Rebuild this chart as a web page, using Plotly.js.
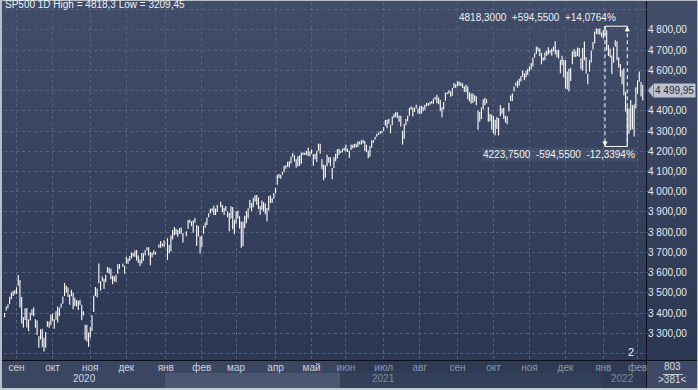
<!DOCTYPE html>
<html><head><meta charset="utf-8">
<script src="https://cdn.plot.ly/plotly-3.0.1.min.js"></script>
<style>
html,body{margin:0;padding:0;background:#2b3753;}
#wrap{position:relative;width:698px;height:390px;overflow:hidden;background:linear-gradient(180deg,#424e69 0px,#2b3753 360px);}
.blk{position:absolute;}
#chart{position:absolute;left:0;top:0;width:698px;height:390px;}
</style></head><body>
<div id="wrap">
  <div class="blk" style="left:0;top:361px;width:340px;height:29px;background:#3b4762"></div>
  <div class="blk" style="left:165px;top:373px;width:175px;height:15px;background:#4b5771"></div>
  <div class="blk" style="left:340px;top:361px;width:307px;height:29px;background:#2f3b55"></div>
  <div class="blk" style="left:340px;top:373px;width:262px;height:15px;background:#33405a"></div>
  <div class="blk" style="left:647px;top:361px;width:51px;height:29px;background:#3d4965"></div>
  <div class="blk" style="left:663px;top:374px;width:20px;height:1px;background:#c8d0dc"></div>
  <div class="blk" style="left:646px;top:0;width:1px;height:390px;background:#0c0f18"></div>
  <div class="blk" style="left:0;top:360px;width:698px;height:1px;background:#0c0f18"></div>
  <div class="blk" style="left:0;top:0;width:698px;height:1px;background:#b7beca"></div>
  <div class="blk" style="left:0;top:0;width:2px;height:390px;background:#b7beca"></div>
  <div class="blk" style="left:697px;top:0;width:1px;height:390px;background:#b7beca"></div>
  <div class="blk" style="left:0;top:388px;width:698px;height:2px;background:#c3c9d3"></div>
  <div id="chart"></div>
</div>
<script>
// bar slots (exchange holidays in winter 2020/21 kept as empty slots)
const dates = [
'2020-08-21','2020-08-24','2020-08-25','2020-08-26','2020-08-27','2020-08-28','2020-08-31',
'2020-09-01','2020-09-02','2020-09-03','2020-09-04','2020-09-08','2020-09-09','2020-09-10','2020-09-11','2020-09-14','2020-09-15','2020-09-16','2020-09-17','2020-09-18','2020-09-21','2020-09-22','2020-09-23','2020-09-24','2020-09-25','2020-09-28','2020-09-29','2020-09-30',
'2020-10-01','2020-10-02','2020-10-05','2020-10-06','2020-10-07','2020-10-08','2020-10-09','2020-10-12','2020-10-13','2020-10-14','2020-10-15','2020-10-16','2020-10-19','2020-10-20','2020-10-21','2020-10-22','2020-10-23','2020-10-26','2020-10-27','2020-10-28','2020-10-29','2020-10-30',
'2020-11-02','2020-11-03','2020-11-04','2020-11-05','2020-11-06','2020-11-09','2020-11-10','2020-11-11','2020-11-12','2020-11-13','2020-11-16','2020-11-17','2020-11-18','2020-11-19','2020-11-20','2020-11-23','2020-11-24','2020-11-25','2020-11-26','2020-11-27','2020-11-30',
'2020-12-01','2020-12-02','2020-12-03','2020-12-04','2020-12-07','2020-12-08','2020-12-09','2020-12-10','2020-12-11','2020-12-14','2020-12-15','2020-12-16','2020-12-17','2020-12-18','2020-12-21','2020-12-22','2020-12-23','2020-12-24','2020-12-25','2020-12-28','2020-12-29','2020-12-30','2020-12-31',
'2021-01-01','2021-01-04','2021-01-05','2021-01-06','2021-01-07','2021-01-08','2021-01-11','2021-01-12','2021-01-13','2021-01-14','2021-01-15','2021-01-18','2021-01-19','2021-01-20','2021-01-21','2021-01-22','2021-01-25','2021-01-26','2021-01-27','2021-01-28','2021-01-29',
'2021-02-01','2021-02-02','2021-02-03','2021-02-04','2021-02-05','2021-02-08','2021-02-09','2021-02-10','2021-02-11','2021-02-12','2021-02-15','2021-02-16','2021-02-17','2021-02-18','2021-02-19','2021-02-22','2021-02-23','2021-02-24','2021-02-25','2021-02-26',
'2021-03-01','2021-03-02','2021-03-03','2021-03-04','2021-03-05','2021-03-08','2021-03-09','2021-03-10','2021-03-11','2021-03-12','2021-03-15','2021-03-16','2021-03-17','2021-03-18','2021-03-19','2021-03-22','2021-03-23','2021-03-24','2021-03-25','2021-03-26','2021-03-29','2021-03-30','2021-03-31',
'2021-04-01','2021-04-05','2021-04-06','2021-04-07','2021-04-08','2021-04-09','2021-04-12','2021-04-13','2021-04-14','2021-04-15','2021-04-16','2021-04-19','2021-04-20','2021-04-21','2021-04-22','2021-04-23','2021-04-26','2021-04-27','2021-04-28','2021-04-29','2021-04-30',
'2021-05-03','2021-05-04','2021-05-05','2021-05-06','2021-05-07','2021-05-10','2021-05-11','2021-05-12','2021-05-13','2021-05-14','2021-05-17','2021-05-18','2021-05-19','2021-05-20','2021-05-21','2021-05-24','2021-05-25','2021-05-26','2021-05-27','2021-05-28',
'2021-06-01','2021-06-02','2021-06-03','2021-06-04','2021-06-07','2021-06-08','2021-06-09','2021-06-10','2021-06-11','2021-06-14','2021-06-15','2021-06-16','2021-06-17','2021-06-18','2021-06-21','2021-06-22','2021-06-23','2021-06-24','2021-06-25','2021-06-28','2021-06-29','2021-06-30',
'2021-07-01','2021-07-02','2021-07-06','2021-07-07','2021-07-08','2021-07-09','2021-07-12','2021-07-13','2021-07-14','2021-07-15','2021-07-16','2021-07-19','2021-07-20','2021-07-21','2021-07-22','2021-07-23','2021-07-26','2021-07-27','2021-07-28','2021-07-29','2021-07-30',
'2021-08-02','2021-08-03','2021-08-04','2021-08-05','2021-08-06','2021-08-09','2021-08-10','2021-08-11','2021-08-12','2021-08-13','2021-08-16','2021-08-17','2021-08-18','2021-08-19','2021-08-20','2021-08-23','2021-08-24','2021-08-25','2021-08-26','2021-08-27','2021-08-30','2021-08-31',
'2021-09-01','2021-09-02','2021-09-03','2021-09-07','2021-09-08','2021-09-09','2021-09-10','2021-09-13','2021-09-14','2021-09-15','2021-09-16','2021-09-17','2021-09-20','2021-09-21','2021-09-22','2021-09-23','2021-09-24','2021-09-27','2021-09-28','2021-09-29','2021-09-30',
'2021-10-01','2021-10-04','2021-10-05','2021-10-06','2021-10-07','2021-10-08','2021-10-11','2021-10-12','2021-10-13','2021-10-14','2021-10-15','2021-10-18','2021-10-19','2021-10-20','2021-10-21','2021-10-22','2021-10-25','2021-10-26','2021-10-27','2021-10-28','2021-10-29',
'2021-11-01','2021-11-02','2021-11-03','2021-11-04','2021-11-05','2021-11-08','2021-11-09','2021-11-10','2021-11-11','2021-11-12','2021-11-15','2021-11-16','2021-11-17','2021-11-18','2021-11-19','2021-11-22','2021-11-23','2021-11-24','2021-11-26','2021-11-29','2021-11-30',
'2021-12-01','2021-12-02','2021-12-03','2021-12-06','2021-12-07','2021-12-08','2021-12-09','2021-12-10','2021-12-13','2021-12-14','2021-12-15','2021-12-16','2021-12-17','2021-12-20','2021-12-21','2021-12-22','2021-12-23','2021-12-27','2021-12-28','2021-12-29','2021-12-30','2021-12-31',
'2022-01-03','2022-01-04','2022-01-05','2022-01-06','2022-01-07','2022-01-10','2022-01-11','2022-01-12','2022-01-13','2022-01-14','2022-01-18','2022-01-19','2022-01-20','2022-01-21','2022-01-24','2022-01-25','2022-01-26','2022-01-27','2022-01-28','2022-01-31',
'2022-02-01','2022-02-02','2022-02-03','2022-02-04'
];
const highs = [
3400,3432,3444,3481,3501,3509,3514,
3528,3588,3564,3479,3379,3424,3425,3368,3402,3419,3428,3369,3363,3286,3320,3323,3278,3306,3360,3358,3393,
3398,3369,3409,3432,3426,3447,3482,3549,3535,3527,3490,3515,3502,3476,3465,3461,3466,3441,3409,3342,3342,3304,
3330,3389,3486,3529,3521,3645,3557,3581,3569,3589,3628,3624,3619,3585,3582,3589,3642,3643,null,3645,3634,
3678,3670,3682,3699,3697,3709,3712,3685,3665,3697,3695,3711,3725,3726,3702,3698,3711,3703,null,3740,3756,3744,3760,
null,3770,3737,3784,3811,3826,3817,3811,3820,3823,3796,null,3805,3860,3862,3853,3859,3870,3836,3830,3778,
3784,3831,3848,3872,3894,3916,3918,3931,3917,3935,null,3950,3934,3921,3930,3902,3895,3928,3925,3861,
3903,3906,3879,3853,3851,3881,3903,3918,3960,3944,3970,3982,3984,3971,3930,3956,3949,3942,3919,3979,3981,3968,3994,
4020,4084,4087,4084,4098,4129,4131,4148,4151,4173,4191,4180,4160,4175,4179,4194,4194,4193,4201,4218,4199,
4209,4187,4187,4202,4238,4237,4162,4134,4131,4183,4172,4170,4117,4172,4188,4210,4213,4203,4213,4218,
4234,4212,4201,4233,4232,4237,4237,4249,4248,4255,4257,4251,4232,4204,4226,4255,4256,4272,4287,4293,4300,4302,
4320,4355,4356,4361,4331,4372,4386,4393,4393,4377,4376,4301,4336,4359,4375,4415,4422,4416,4415,4430,4412,
4423,4425,4420,4430,4440,4439,4445,4449,4461,4468,4480,4466,4454,4418,4444,4489,4492,4502,4496,4513,4537,4531,
4546,4545,4540,4535,4522,4529,4520,4492,4485,4486,4477,4472,4403,4394,4416,4457,4465,4457,4419,4384,4382,
4375,4356,4369,4365,4429,4412,4415,4375,4373,4440,4476,4487,4520,4540,4549,4559,4572,4599,4585,4598,4608,
4620,4636,4664,4684,4718,4714,4708,4685,4664,4688,4697,4714,4701,4708,4717,4744,4701,4702,4651,4672,4652,
4651,4595,4608,4613,4694,4706,4695,4713,4711,4660,4710,4743,4665,4583,4651,4698,4740,4792,4808,4804,4808,4787,
4800,4818.3,4798,4725,4707,4673,4714,4749,4744,4665,4632,4601,4611,4494,4417,4411,4453,4428,4432,4517,
4550,4595,4542,4529
];
const lows = [
3379,3413,3424,3444,3468,3485,3493,
3494,3535,3427,3349,3329,3366,3329,3310,3363,3389,3384,3328,3292,3229,3270,3232,3209.45,3228,3333,3327,3340,
3361,3323,3367,3354,3385,3426,3446,3484,3502,3480,3441,3483,3419,3435,3433,3415,3440,3364,3388,3268,3259,3234,
3279,3311,3405,3485,3477,3547,3511,3557,3519,3552,3600,3594,3567,3543,3556,3553,3595,3619,null,3629,3594,
3645,3644,3657,3670,3679,3678,3660,3648,3633,3645,3659,3685,3710,3685,3636,3676,3689,3689,null,3723,3723,3730,3726,
null,3663,3696,3705,3764,3783,3789,3777,3792,3792,3749,null,3780,3816,3845,3830,3797,3847,3732,3778,3694,
3725,3792,3822,3836,3874,3892,3902,3885,3885,3900,null,3923,3899,3885,3905,3874,3805,3868,3814,3790,
3842,3868,3818,3723,3730,3819,3844,3867,3917,3905,3923,3950,3935,3914,3886,3910,3902,3889,3853,3907,3944,3944,3965,
3993,4034,4068,4064,4083,4096,4114,4124,4120,4139,4171,4150,4118,4126,4127,4138,4182,4181,4181,4176,4174,
4188,4128,4161,4147,4202,4188,4111,4057,4069,4126,4143,4126,4062,4117,4151,4164,4183,4192,4195,4203,
4197,4198,4168,4206,4215,4218,4219,4221,4233,4234,4238,4203,4196,4165,4173,4217,4241,4257,4272,4281,4287,4289,
4300,4326,4314,4336,4289,4329,4365,4369,4363,4346,4322,4233,4262,4329,4348,4375,4405,4372,4394,4412,4387,
4383,4385,4398,4405,4422,4425,4430,4436,4435,4456,4437,4432,4398,4368,4406,4450,4482,4485,4469,4474,4513,4514,
4521,4524,4523,4513,4494,4492,4457,4446,4436,4439,4447,4427,4306,4347,4360,4406,4428,4437,4346,4349,4306,
4288,4279,4310,4278,4373,4386,4360,4342,4333,4398,4448,4448,4496,4524,4514,4524,4545,4569,4551,4565,4577,
4595,4604,4619,4664,4681,4694,4670,4630,4648,4650,4672,4679,4684,4672,4694,4680,4665,4659,4586,4625,4565,
4510,4505,4495,4547,4630,4667,4665,4671,4666,4606,4598,4650,4585,4531,4594,4639,4703,4734,4780,4778,4776,4766,
4758,4774,4699,4671,4663,4582,4638,4718,4650,4614,4569,4531,4477,4396,4223.75,4287,4305,4309,4273,4411,
4484,4544,4471,4451
];
const lastPrice = 4499.95;
const monthStarts = ['2020-09-01','2020-10-01','2020-11-02','2020-12-01','2021-01-01','2021-02-01','2021-03-01','2021-04-01','2021-05-03','2021-06-01','2021-07-01','2021-08-02','2021-09-01','2021-10-01','2021-11-01','2021-12-01','2022-01-03','2022-02-01'];
const monthLabels = ['сен','окт','ноя','дек','янв','фев','мар','апр','май','июн','июл','авг','сен','окт','ноя','дек','янв','фев'];
const years = ['2020','2021','2022'];
const priceTicks = [3200,3300,3400,3500,3600,3700,3800,3900,4000,4100,4200,4300,4400,4500,4600,4700,4800,4900];
const priceLabels = ['','3 300,00','3 400,00','3 500,00','3 600,00','3 700,00','3 800,00','3 900,00','4 000,00','4 100,00','4 200,00','4 300,00','4 400,00','','4 600,00','4 700,00','4 800,00',''];
const measureStart = '2022-01-04';
const measureEnd = '2022-01-24';

const FONT = 'Liberation Sans, Arial, sans-serif';
const idx = d => dates.indexOf(d);
const iS = idx(measureStart), iE = idx(measureEnd);
const mHigh = highs[iS], mLow = lows[iE];
const num4 = v => v.toFixed(4).replace('.', ',');
const diff = mHigh - mLow;
const topText = num4(mHigh) + '&nbsp;&nbsp;+' + num4(diff) + '&nbsp;&nbsp;+' + num4(diff / mLow * 100) + '%';
const botText = num4(mLow) + '&nbsp;&nbsp;-' + num4(diff) + '&nbsp;&nbsp;-' + num4(diff / mHigh * 100) + '%';
const maxH = Math.max(...highs.filter(v => v !== null)), minL = Math.min(...lows.filter(v => v !== null));
const titleText = 'SP500 1D High = ' + String(maxH).replace('.', ',') + ' Low = ' + String(minL).replace('.', ',');

const splitIdx = idx('2021-06-01');
const tickText = monthLabels.map((m, k) => idx(monthStarts[k]) >= splitIdx ? '<span style="color:#8c96aa">' + m + '</span>' : m);

const yearAnn = years.map((y, k) => {
  const ids = dates.map((d, i) => d.startsWith(y) ? i : -1).filter(i => i >= 0);
  const a = ids[0], b = ids[ids.length - 1];
  return {xref: 'x', yref: 'paper', x: (a + b) / 2, y: -0.053, text: y, showarrow: false,
    xanchor: 'center', yanchor: 'middle', font: {family: FONT, size: 10, color: k === 0 ? '#d0d7e3' : '#7f899d'}};
});

const trace = {
  type: 'ohlc', x: dates.map((d, i) => i), open: lows, high: highs, low: lows, close: highs,
  tickwidth: 0,
  increasing: {line: {color: '#ffffff', width: 1.1}},
  decreasing: {line: {color: '#ffffff', width: 1.1}},
  hoverinfo: 'skip', showlegend: false
};

// plot geometry helpers for the price pointer (pixels -> paper / data units)
const plotW = 698 - 4 - 51, plotH = 390 - 2 - 30, yRange = [3168, 4938];
const pxX = p => p / plotW, pxY = p => p * (yRange[1] - yRange[0]) / plotH;

const dashLine = {color: '#ffffff', width: 1, dash: '4px,3px'};
const layout = {
  width: 698, height: 390,
  margin: {l: 4, r: 51, t: 2, b: 30, pad: 0},
  paper_bgcolor: 'rgba(0,0,0,0)', plot_bgcolor: 'rgba(0,0,0,0)',
  font: {family: FONT, size: 10, color: '#e6eaf1'},
  title: {text: titleText, x: 0, xref: 'paper', xanchor: 'left', y: 1 - 1/390, yref: 'container', yanchor: 'top',
    pad: {l: 1, t: 0}, font: {family: FONT, size: 10, color: '#eef1f6'}},
  showlegend: false,
  xaxis: {
    range: [-0.3, 374.5], tickmode: 'array', tickvals: monthStarts.map(idx), ticktext: tickText,
    showgrid: true, gridcolor: '#56637f', griddash: '3px,3px', gridwidth: 1,
    zeroline: false, showline: false, ticks: '', ticklen: 0,
    tickfont: {family: FONT, size: 10, color: '#cbd3e1'},
    rangeslider: {visible: false}, fixedrange: true
  },
  yaxis: {
    side: 'right', range: yRange, tickmode: 'array', tickvals: priceTicks, ticktext: priceLabels,
    showgrid: true, gridcolor: '#56637f', griddash: '3px,3px', gridwidth: 1,
    zeroline: false, showline: false, ticks: '', ticklen: 0,
    tickfont: {family: FONT, size: 10, color: '#e6eaf1'}, fixedrange: true
  },
  shapes: [
    {type: 'line', xref: 'x', yref: 'y', x0: iS, x1: iE, y0: mHigh, y1: mHigh, line: {color: '#ffffff', width: 1}},
    {type: 'line', xref: 'x', yref: 'y', x0: iS, x1: iE, y0: mLow, y1: mLow, line: {color: '#ffffff', width: 1}},
    {type: 'line', xref: 'x', yref: 'y', x0: iS, x1: iS, y0: mHigh, y1: mLow, line: dashLine},
    {type: 'line', xref: 'x', yref: 'y', x0: iE, x1: iE, y0: mHigh, y1: mLow, line: dashLine},
    {type: 'path', xref: 'paper', yref: 'y', layer: 'above',
      path: 'M ' + (1 + pxX(1)) + ',' + lastPrice + ' L ' + (1 + pxX(6)) + ',' + (lastPrice + pxY(6.5)) +
            ' L ' + (1 + pxX(6)) + ',' + (lastPrice - pxY(6.5)) + ' Z',
      fillcolor: '#bcc3cf', line: {width: 0}}
  ],
  annotations: [
    {xref: 'x', yref: 'y', x: iS, y: mLow, ax: 0, ay: -7, text: '', showarrow: true, arrowhead: 2, arrowsize: 1, arrowwidth: 1, arrowcolor: '#ffffff'},
    {xref: 'x', yref: 'y', x: iE, y: mHigh, ax: 0, ay: 7, text: '', showarrow: true, arrowhead: 2, arrowsize: 1, arrowwidth: 1, arrowcolor: '#ffffff'},
    {xref: 'x', yref: 'y', x: iE, y: mHigh, xanchor: 'right', yanchor: 'middle', xshift: -9, yshift: 9, text: topText, showarrow: false,
      font: {family: FONT, size: 10, color: '#eef1f6'}},
    {xref: 'x', yref: 'y', x: iE, y: mLow, xanchor: 'right', yanchor: 'middle', xshift: 10, yshift: -8, text: botText, showarrow: false,
      bgcolor: 'rgba(255,255,255,0.06)', font: {family: FONT, size: 10, color: '#eef1f6'}},
    {xref: 'paper', yref: 'y', x: 1, y: lastPrice, xanchor: 'left', yanchor: 'middle', xshift: 6, text: '4 499,95', showarrow: false,
      bgcolor: '#bcc3cf', borderpad: 1, font: {family: FONT, size: 10, color: '#1f2a43'}},
    {xref: 'paper', yref: 'paper', x: 0.975, y: 0, xanchor: 'center', yanchor: 'bottom', text: '2', showarrow: false,
      font: {family: FONT, size: 11, color: '#f0f3f8'}},
    {xref: 'paper', yref: 'paper', x: 1.0404, y: -0.02, yshift: 1, xanchor: 'center', yanchor: 'middle', text: '803', showarrow: false,
      font: {family: FONT, size: 10, color: '#d3d9e4'}},
    {xref: 'paper', yref: 'paper', x: 1.0404, y: -0.056, yshift: 1, xanchor: 'center', yanchor: 'middle', text: '&gt;381&lt;', showarrow: false,
      font: {family: FONT, size: 10, color: '#d3d9e4'}}
  ].concat(yearAnn)
};

Plotly.newPlot('chart', [trace], layout, {displayModeBar: false, staticPlot: true});
</script>
</body></html>
